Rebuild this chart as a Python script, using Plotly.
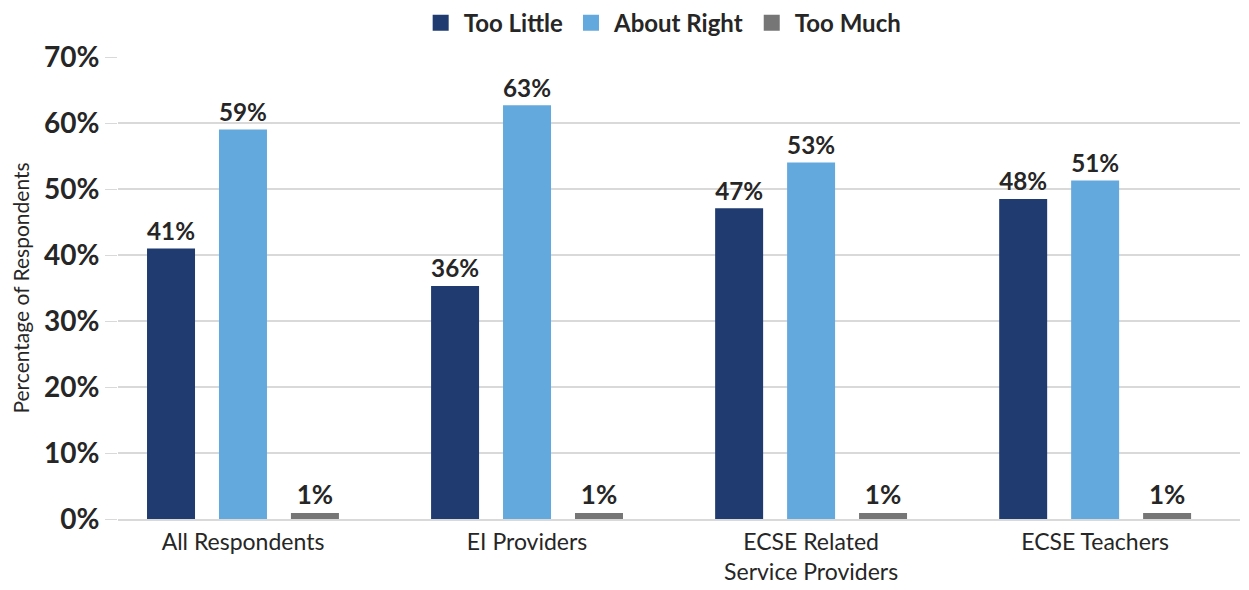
import plotly.graph_objects as go

categories = ["All Respondents", "EI Providers", "ECSE Related<br>Service Providers", "ECSE Teachers"]
too_little = [41.0, 35.3, 47.1, 48.5]
about_right = [59.0, 62.7, 54.0, 51.3]
too_much = [0.9, 0.9, 0.9, 0.9]
too_little_labels = ["41%", "36%", "47%", "48%"]
about_right_labels = ["59%", "63%", "53%", "51%"]
too_much_labels = ["1%", "1%", "1%", "1%"]
y_ticks = [0, 10, 20, 30, 40, 50, 60, 70]
y_tick_labels = ["0%", "10%", "20%", "30%", "40%", "50%", "60%", "70%"]

series = [
    ("Too Little", too_little, too_little_labels, "#1f3b70"),
    ("About Right", about_right, about_right_labels, "#63a9dd"),
    ("Too Much", too_much, too_much_labels, "#767676"),
]

FONT = "Lato, 'Open Sans', sans-serif"

fig = go.Figure()
for name, vals, labels, color in series:
    fig.add_trace(go.Bar(
        name=name, x=categories, y=vals, text=labels,
        texttemplate="%{text}", textposition="outside",
        textfont=dict(family=FONT, size=26, color="#262626", weight="bold"),
        marker=dict(color=color, line=dict(width=0)),
        cliponaxis=False, showlegend=False,
    ))
# legend entries with large square swatches
for name, vals, labels, color in series:
    fig.add_trace(go.Scatter(
        name=name, x=[None], y=[None], mode="markers",
        marker=dict(symbol="square", size=26, color=color),
        showlegend=True,
    ))

fig.update_layout(
    width=1241, height=582,
    margin=dict(l=110, r=9, t=49, b=71, autoexpand=False),
    paper_bgcolor="white", plot_bgcolor="white",
    barmode="group", bargap=0.24, bargroupgap=0.333,
    font=dict(family=FONT, color="#262626"),
    legend=dict(orientation="h", x=0.485, xanchor="center", y=1.073, yanchor="middle",
                font=dict(family=FONT, size=24, color="#262626", weight="bold"),
                itemwidth=36, itemsizing="trace", traceorder="normal"),
    xaxis=dict(type="category", range=[-0.44, 3.51], showgrid=False,
               showline=True, linecolor="#d9d9d9", linewidth=1.5,
               tickfont=dict(family=FONT, size=23, color="#262626"), ticks="",
               ticklabelstandoff=2),
    yaxis=dict(range=[0, 70], tickvals=y_ticks, ticktext=y_tick_labels,
               showgrid=True, gridcolor="#d9d9d9", gridwidth=1.5,
               zeroline=False, showline=False,
               ticks="outside", ticklen=12, tickcolor="#d9d9d9",
               tickfont=dict(family=FONT, size=28, color="#262626", weight="bold"),
               title=dict(text="Percentage of Respondents", standoff=12,
                          font=dict(family=FONT, size=21, color="#262626"))),
)

fig.write_html("out.html")
